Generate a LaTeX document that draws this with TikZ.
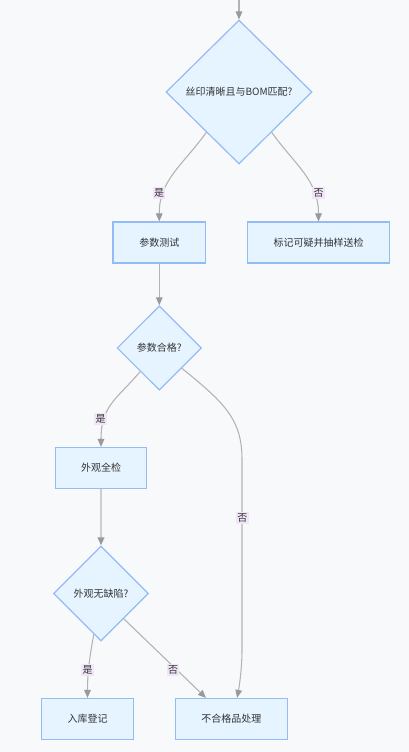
\documentclass[tikz,border=0pt]{standalone}
\usepackage{fontspec}
\newfontfamily\cjk{Noto Sans CJK SC}
\usetikzlibrary{shapes.geometric,arrows.meta}
\definecolor{bg}{HTML}{F8F9FB}
\definecolor{nodefill}{HTML}{E6F4FF}
\definecolor{nodeline}{HTML}{93BBF6}
\definecolor{edgeline}{HTML}{B3B3B3}
\definecolor{tipcol}{HTML}{9A9A9A}
\definecolor{lblfill}{HTML}{F1E6F8}
\definecolor{txt}{HTML}{333333}
\begin{document}
\begin{tikzpicture}[x=0.75pt,y=-0.75pt,
  font=\cjk\fontsize{7.5pt}{9pt}\selectfont,
  box/.style={draw=nodeline,fill=nodefill,line width=0.9pt,rectangle,minimum height=30.75pt,inner sep=0pt,text=txt},
  dec/.style={draw=nodeline,fill=nodefill,line width=0.9pt,diamond,inner sep=0pt,text=txt},
  arr/.style={draw=edgeline,line width=0.8pt,-{Triangle[length=6pt,width=5pt,fill=tipcol,color=tipcol]}},
  lbl/.style={fill=lblfill,inner sep=1pt,text=txt}]
\fill[bg] (0,0) rectangle (409,752);
\useasboundingbox (0,0) rectangle (409,752);

\node[dec,minimum width=109.5pt,minimum height=108pt] (d1) at (239,92) {丝印清晰且与BOM匹配?};
\node[box,minimum width=69.5pt] (b1) at (159.3,242.5) {参数测试};
\node[box,minimum width=106.8pt] (b2) at (318.5,242.5) {标记可疑并抽样送检};
\node[dec,minimum width=63.3pt,minimum height=63.2pt] (d2) at (159.3,348) {参数合格?};
\node[box,minimum width=68.5pt] (b3) at (101,468) {外观全检};
\node[dec,minimum width=71.3pt,minimum height=71.3pt] (d3) at (101,593.5) {外观无缺陷?};
\node[box,minimum width=68.7pt] (b4) at (87.5,719) {入库登记};
\node[box,minimum width=84pt] (b5) at (231.3,719) {不合格品处理};

\coordinate (top) at (239,0);
\draw[arr] (top) -- (d1.north);
\draw[arr] (d1.231) .. controls (183,165) and (159,180) .. (b1.north);
\draw[arr] (d1.309) .. controls (295,165) and (318.5,180) .. (b2.north);
\draw[arr] (b1.south) -- (d2.north);
\draw[arr] (d2.231) .. controls (118,398) and (101,405) .. (b3.north);
\draw[arr] (d2.318) .. controls (226,404) and (242,420) .. (242,460) -- (242,650) .. controls (242,675) and ([xshift=4.3pt]b5.north) .. ([xshift=4.3pt]b5.north);
\draw[arr,line width=1.2pt,draw=edgeline!65] (b3.south) -- (d3.north);
\draw[arr] (d3.260) .. controls (89,660) and (87.5,675) .. (b4.north);
\draw[arr] (d3.312) -- ([xshift=-19pt]b5.north);

\node[lbl] (l1) at (159,193) {是};
\node[lbl] (l2) at (318.5,193) {否};
\node[lbl] (l3) at (100.7,419) {是};
\node[lbl] (l4) at (242.3,518) {否};
\node[lbl] (l5) at (87.5,670) {是};
\node[lbl] (l6) at (173,670) {否};
\end{tikzpicture}
\end{document}
